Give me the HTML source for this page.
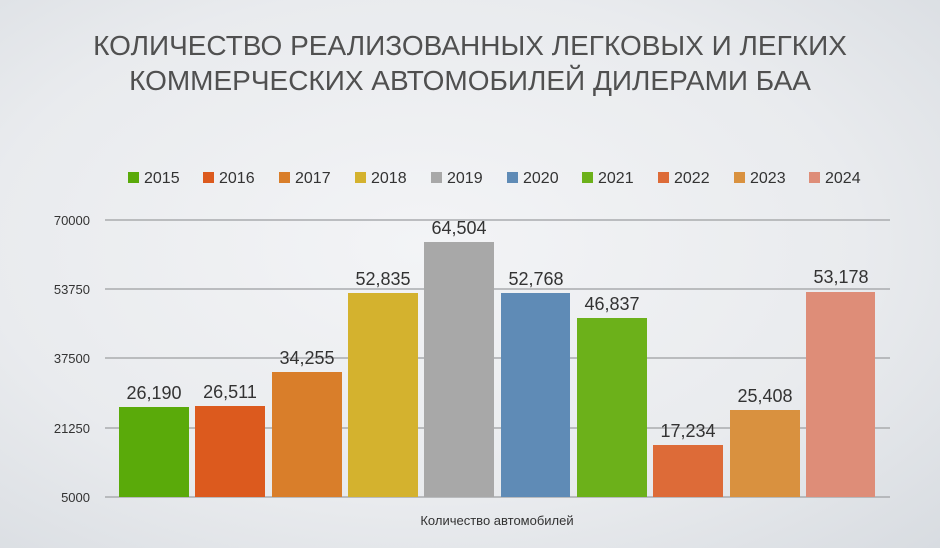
<!DOCTYPE html>
<html><head><meta charset="utf-8"><style>
body{margin:0;}
#c{width:940px;height:548px;position:relative;overflow:hidden;background:radial-gradient(ellipse at 45% 45%,#f3f4f6 0%,#e9ebee 60%,#d8dce1 100%);font-family:"Liberation Sans",sans-serif;}
.t{position:absolute;left:0;width:940px;text-align:center;color:#505050;font-size:28px;letter-spacing:0;font-weight:300;}
</style></head><body><div id="c">
<div class="t" style="top:30px">КОЛИЧЕСТВО РЕАЛИЗОВАННЫХ ЛЕГКОВЫХ И ЛЕГКИХ</div>
<div class="t" style="top:65px">КОММЕРЧЕСКИХ АВТОМОБИЛЕЙ ДИЛЕРАМИ БАА</div>
<svg width="940" height="548" style="position:absolute;left:0;top:0" font-family="Liberation Sans, sans-serif">
<g stroke="#a9abae" stroke-width="1.5">
<line x1="105" x2="890" y1="220" y2="220"/><line x1="105" x2="890" y1="289" y2="289"/><line x1="105" x2="890" y1="358" y2="358"/><line x1="105" x2="890" y1="428" y2="428"/><line x1="105" x2="890" y1="497" y2="497"/>
</g>
<g fill="#333" font-size="13" text-anchor="end">
<text x="90" y="225">70000</text><text x="90" y="294">53750</text><text x="90" y="363">37500</text><text x="90" y="433">21250</text><text x="90" y="502">5000</text>
</g>
<g>
<rect x="119" y="407" width="70" height="90" fill="#5aaa0a"/>
<rect x="195" y="406" width="70" height="91" fill="#dc5a1e"/>
<rect x="272" y="372" width="70" height="125" fill="#d97e2a"/>
<rect x="348" y="293" width="70" height="204" fill="#d4b22e"/>
<rect x="424" y="242" width="70" height="255" fill="#a8a8a8"/>
<rect x="501" y="293" width="69" height="204" fill="#5f8bb6"/>
<rect x="577" y="318" width="70" height="179" fill="#6cb11a"/>
<rect x="653" y="445" width="70" height="52" fill="#dd6b38"/>
<rect x="730" y="410" width="70" height="87" fill="#d9913f"/>
<rect x="806" y="292" width="69" height="205" fill="#de8d78"/>
</g>
<g fill="#333" font-size="18" text-anchor="middle">
<text x="154" y="399">26,190</text><text x="230" y="398">26,511</text><text x="307" y="364">34,255</text><text x="383" y="285">52,835</text><text x="459" y="234">64,504</text><text x="536" y="285">52,768</text><text x="612" y="310">46,837</text><text x="688" y="437">17,234</text><text x="765" y="402">25,408</text><text x="841" y="283">53,178</text>
</g>
<text x="497" y="525" font-size="13" fill="#333" text-anchor="middle">Количество автомобилей</text>
<g font-size="16" fill="#333">
<rect x="128" y="172" width="11" height="11" fill="#5aaa0a"/><text x="144" y="183">2015</text>
<rect x="203" y="172" width="11" height="11" fill="#dc5a1e"/><text x="219" y="183">2016</text>
<rect x="279" y="172" width="11" height="11" fill="#d97e2a"/><text x="295" y="183">2017</text>
<rect x="355" y="172" width="11" height="11" fill="#d4b22e"/><text x="371" y="183">2018</text>
<rect x="431" y="172" width="11" height="11" fill="#a8a8a8"/><text x="447" y="183">2019</text>
<rect x="507" y="172" width="11" height="11" fill="#5f8bb6"/><text x="523" y="183">2020</text>
<rect x="582" y="172" width="11" height="11" fill="#6cb11a"/><text x="598" y="183">2021</text>
<rect x="658" y="172" width="11" height="11" fill="#dd6b38"/><text x="674" y="183">2022</text>
<rect x="734" y="172" width="11" height="11" fill="#d9913f"/><text x="750" y="183">2023</text>
<rect x="809" y="172" width="11" height="11" fill="#de8d78"/><text x="825" y="183">2024</text>
</g>
</svg>
</div></body></html>
